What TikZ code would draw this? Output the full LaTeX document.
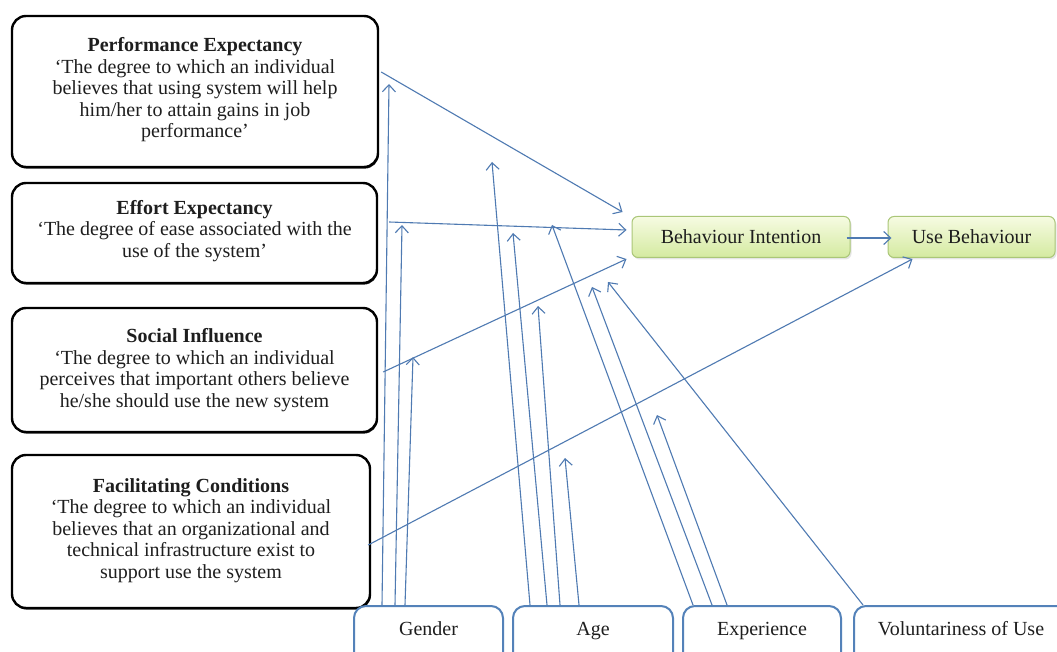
\documentclass[tikz,border=0pt]{standalone}
\usepackage{fontspec}
\setmainfont{Liberation Serif}
\usetikzlibrary{arrows.meta,calc,shadows}

\definecolor{linkblue}{RGB}{79,122,178}
\definecolor{modblue}{RGB}{84,130,185}
\definecolor{outborder}{RGB}{170,198,120}
\definecolor{outtop}{RGB}{246,251,226}
\definecolor{outbottom}{RGB}{212,234,160}
\definecolor{inktext}{RGB}{30,30,30}

\begin{document}
\begin{tikzpicture}[x=1pt,y=-1pt,
  txt/.style={font=\fontsize{20}{21.5}\selectfont, text=inktext},
  construct/.style={txt, draw=black, line width=2.4pt, rounded corners=14pt,
    fill=white, align=center, inner sep=0pt,
    drop shadow={shadow xshift=0.8pt, shadow yshift=-1.6pt,
      fill=black, opacity=0.85}},
  outcome/.style={txt, draw=outborder, line width=1pt, rounded corners=6pt,
    top color=outtop, bottom color=outbottom, minimum height=41pt,
    inner sep=0pt,
    drop shadow={shadow xshift=1.5pt, shadow yshift=-2pt, opacity=0.2}},
  moderator/.style={txt, draw=modblue, line width=2pt, rounded corners=12pt,
    fill=white, anchor=north west, inner sep=0pt,
    text height=29pt, text depth=40pt},
  link/.style={draw=linkblue, line width=1.1pt,
    -{Straight Barb[length=7pt,width=13pt]}},
]
\useasboundingbox (0,0) rectangle (1057,652);
\fill[white] (0,0) rectangle (1057,652);
\clip (0,0) rectangle (1057,652);

% the four constructs
\node[construct, minimum width=366pt, minimum height=151pt] (pe) at (195,91.5)
  {\textbf{Performance Expectancy}\\
   ‘The degree to which an individual\\
   believes that using system will help\\
   him/her to attain gains in job\\
   performance’\\[-14pt]};
\node[construct, minimum width=365pt, minimum height=100pt] (ee) at (194.5,233)
  {\textbf{Effort Expectancy}\\
   ‘The degree of ease associated with the\\
   use of the system’\\[-13pt]};
\node[construct, minimum width=365pt, minimum height=124pt] (si) at (194.5,370)
  {\textbf{Social Influence}\\
   ‘The degree to which an individual\\
   perceives that important others believe\\
   he/she should use the new system};
\node[construct, minimum width=358pt, minimum height=153pt] (fc) at (191,531.5)
  {\textbf{Facilitating Conditions}\\
   ‘The degree to which an individual\\
   believes that an organizational and\\
   technical infrastructure exist to\\
   support use the system\\[-15pt]};

% intention and behaviour
\node[outcome, minimum width=218pt] (bi) at (741,237) {Behaviour Intention};
\node[outcome, minimum width=167pt] (ub) at (971.5,237) {Use Behaviour};

% moderators along the bottom
\node[moderator, minimum width=149pt] (gender) at (353,605) {Gender};
\node[moderator, minimum width=160pt] (age) at (512,605) {Age};
\node[moderator, minimum width=158pt] (exp) at (682,605) {Experience};
\node[moderator, minimum width=214pt] (vol) at (853,605) {Voluntariness of Use};

% main paths
\draw[link] ($(pe.east)+(2,-19.5)$) -- ($(bi.north west)+(-9,-4)$);
\draw[link] ($(ee.east)+(11,-11)$) -- ($(bi.west)+(-5,-7)$);
\draw[link] ($(si.east)+(5,2)$) -- ($(bi.south west)+(-5,1)$);
\draw[link] ($(fc.east)+(-3,13.5)$) -- ($(ub.south west)+(25,1)$);
\draw[link] ($(bi.east)+(-4,1)$) -- ($(ub.west)+(4,1)$);

% moderating arrows
\coordinate (g1) at (389,84);
\coordinate (g2) at (402,225);
\coordinate (g3) at (413,357);
\coordinate (a1) at (492,162);
\coordinate (a2) at (513,233);
\coordinate (a3) at (538,306);
\coordinate (a4) at (565,458);
\coordinate (e1) at (552,225);
\coordinate (e2) at (592,287);
\coordinate (e3) at (657,415);
\coordinate (v1) at (608,282);

\draw[link] ($(gender.north west)+(29,0)$) -- (g1);
\draw[link] ($(gender.north west)+(42,0)$) -- (g2);
\draw[link] ($(gender.north west)+(52,0)$) -- (g3);
\draw[link] ($(age.north west)+(18,0)$) -- (a1);
\draw[link] ($(age.north west)+(35,0)$) -- (a2);
\draw[link] ($(age.north west)+(48,0)$) -- (a3);
\draw[link] ($(age.north west)+(67,0)$) -- (a4);
\draw[link] ($(exp.north west)+(11,0)$) -- (e1);
\draw[link] ($(exp.north west)+(30,0)$) -- (e2);
\draw[link] ($(exp.north west)+(45,0)$) -- (e3);
\draw[link] ($(vol.north west)+(10,0)$) -- (v1);
\end{tikzpicture}
\end{document}
